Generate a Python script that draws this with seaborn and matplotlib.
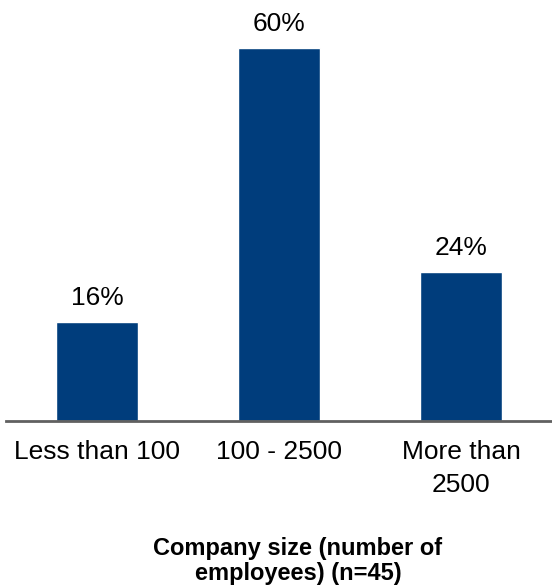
import matplotlib
matplotlib.use("Agg")
import matplotlib.pyplot as plt
import seaborn as sns
import pandas as pd

categories = ["Less than 100", "100 - 2500", "More than\n2500"]
values = [16, 60, 24]
labels = ["16%", "60%", "24%"]
xlabel = "Company size (number of\nemployees) (n=45)"

sns.set_style("white")
plt.rcParams['font.family'] = ['Liberation Sans', 'DejaVu Sans']
plt.rcParams['text.color'] = 'black'

df = pd.DataFrame({"cat": categories, "val": values})

fig = plt.figure(figsize=(5.52, 5.88), dpi=100)
ax = fig.add_axes([6/552, 1 - 421/588, 546/552, 421/588])
sns.barplot(data=df, x="cat", y="val", color="#003D7C", saturation=1, width=0.45, ax=ax)

for i, (v, t) in enumerate(zip(values, labels)):
    ax.annotate(t, (i, v), xytext=(0, 12), textcoords="offset points",
                ha="center", va="baseline", fontsize=19, color="black")

ax.set_xlim(-0.5, 2.5)
ax.set_ylim(0, 67.7)
ax.set_yticks([])
ax.set_ylabel("")
ax.set_xlabel("")
for s in ["top", "right", "left"]:
    ax.spines[s].set_visible(False)
ax.spines["bottom"].set_color("#606060")
ax.spines["bottom"].set_linewidth(2)
ax.tick_params(axis="x", length=0, pad=14, labelsize=19, colors="black")
for lbl in ax.get_xticklabels():
    lbl.set_linespacing(1.45)
ax.patch.set_alpha(0)

fig.text(298/552, 1 - 561/588, xlabel, ha="center", va="center",
         fontsize=17, fontweight="bold", linespacing=1.15, color="black")

fig.savefig("out.png", dpi=100)
